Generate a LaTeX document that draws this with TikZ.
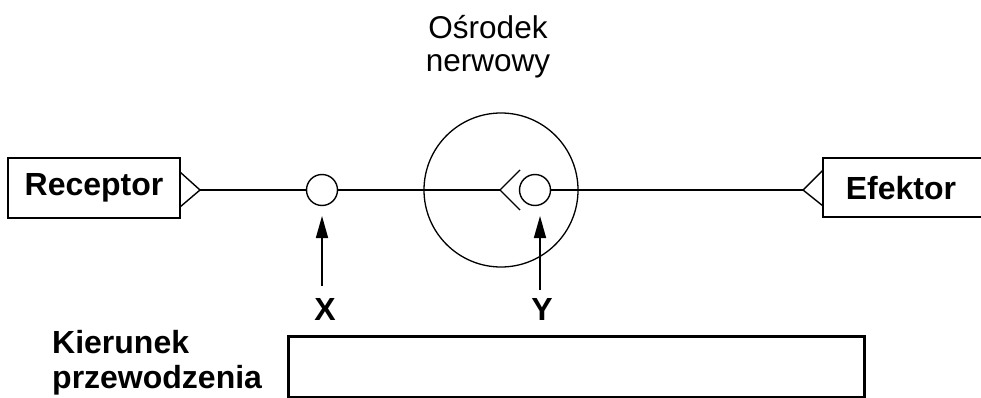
\documentclass[tikz,border=0pt]{standalone}
\usepackage{fontspec}
\setmainfont{Liberation Sans}
\usetikzlibrary{arrows.meta}
\tikzset{
  bold/.style={font=\fontsize{32}{35}\selectfont\bfseries, inner sep=0pt},
  plain/.style={font=\fontsize{31.5}{33}\selectfont, inner sep=0pt},
  thin/.style={line width=1.4pt},
  syn/.style={circle, draw, line width=1.4pt, minimum size=31pt, inner sep=0pt},
  upar/.style={line width=1.6pt, -{Triangle[length=22pt,width=12pt]}},
}
\begin{document}
\begin{tikzpicture}[x=1pt,y=-1pt]
\useasboundingbox (0,0) rectangle (981,398);
% receptor
\node[draw, line width=1.8pt, minimum width=172pt, minimum height=60pt, bold] (rec) at (94,188) {Receptor};
\coordinate (ra) at (180,172);
\coordinate (rt) at (200,190);
\coordinate (rb) at (180,207);
\draw[thin] (ra) -- (rt) -- (rb);
% synapse X
\node[syn] (xc) at (322,190) {};
\draw[thin] (rt) -- (xc.west);
% nerve centre
\node[circle, draw, line width=1.3pt, minimum size=154pt, inner sep=0pt] (cn) at (501,190) {};
\coordinate (ct) at (500,190);
\coordinate (ca) at (520,170);
\coordinate (cb) at (520,210);
\draw[thin] (xc.east) -- (ct);
\draw[thin] (ca) -- (ct) -- (cb);
\node[syn] (yc) at (535,190) {};
% effector
\coordinate (et) at (803,190);
\coordinate (ea) at (823,170);
\coordinate (eb) at (823,206);
\draw[thin] (yc.east) -- (et);
\draw[thin] (ea) -- (et) -- (eb);
\draw[line width=1.8pt] (981,158) -- (823,158) -- (823,217) -- (981,217);
\node[bold] (eff) at (901,188) {Efektor};
% label of centre
\node[plain, align=center, anchor=base] (cl) at (488,72) {Ośrodek\\nerwowy};
% arrows
\coordinate (xs) at (322,286);
\coordinate (xtip) at (322,216);
\coordinate (ys) at (540,290);
\coordinate (ytip) at (540,216);
\draw[upar] (xs) -- (xtip);
\draw[upar] (ys) -- (ytip);
\node[bold] (xl) at (325,309) {X};
\node[bold] (yl) at (542,309) {Y};
% direction
\node[bold, align=left, anchor=base west] (kl) at (52,388) {Kierunek\\przewodzenia};
\node[draw, line width=3pt, minimum width=576pt, minimum height=61pt, inner sep=0pt] (box) at (576,366.5) {};
\end{tikzpicture}
\end{document}
